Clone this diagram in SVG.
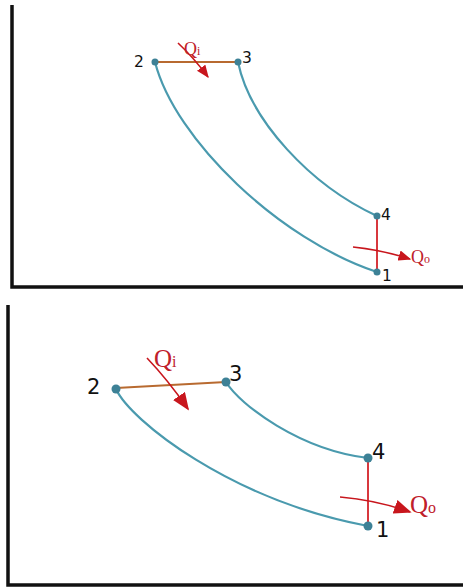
<svg xmlns="http://www.w3.org/2000/svg" width="463" height="587" viewBox="0 0 463 587">
<style>
.axis{stroke:#111;stroke-width:3.5;fill:none}
.curve{stroke:#4a9aae;stroke-width:2.2;fill:none}
.heat{stroke:#b86a30;stroke-width:2;fill:none}
.cool{stroke:#d8383e;stroke-width:2;fill:none}
.arrow{stroke:#c8161d;stroke-width:1.6;fill:none}
.dot{fill:#3d8196}
.num{font-family:"DejaVu Sans",sans-serif;fill:#111}
.q{font-family:"Liberation Serif",serif;fill:#c0202a}
</style>
<defs>
<marker id="ah" viewBox="0 0 10 10" refX="9" refY="5" markerWidth="8" markerHeight="6.5" orient="auto" markerUnits="strokeWidth" preserveAspectRatio="none">
<path d="M0,0 L10,5 L0,10 z" fill="#c8161d"/>
</marker>
<marker id="ahL" viewBox="0 0 10 10" refX="9" refY="5" markerWidth="11" markerHeight="9" orient="auto" markerUnits="strokeWidth" preserveAspectRatio="none">
<path d="M0,0 L10,5 L0,10 z" fill="#c8161d"/>
</marker>
</defs>

<g id="top-axes">
<path class="axis" d="M12,5 V287 H463"/>
</g>
<g id="top-connectors">
<path class="curve" d="M155,62 C175,140 280,240 377,272"/>
<path class="curve" d="M238,62 C250,120 310,185 377,216"/>
<line class="heat" x1="155" y1="62" x2="238" y2="62"/>
<line class="cool" x1="377" y1="216" x2="377" y2="272"/>
<path class="arrow" d="M178,43 Q194,58 208,77" marker-end="url(#ah)"/>
<path class="arrow" d="M353,247 Q382,250 410,259" marker-end="url(#ah)"/>
</g>
<g id="top-p2"><circle class="dot" cx="155" cy="62" r="3.5"/><text class="num" x="134" y="67" font-size="15.5">2</text></g>
<g id="top-p3"><circle class="dot" cx="238" cy="62" r="3.5"/><text class="num" x="242" y="63" font-size="15.5">3</text></g>
<g id="top-p4"><circle class="dot" cx="377" cy="216" r="3.5"/><text class="num" x="381" y="220" font-size="15.5">4</text></g>
<g id="top-p1"><circle class="dot" cx="377" cy="272" r="3.5"/><text class="num" x="382" y="281" font-size="15.5">1</text></g>
<g id="top-qi"><text class="q" x="184" y="55" font-size="18">Q<tspan font-size="12">i</tspan></text></g>
<g id="top-qo"><text class="q" x="411" y="263" font-size="18">Q<tspan font-size="12">o</tspan></text></g>

<g id="bottom-axes">
<path class="axis" d="M8,305 V585 H463" stroke-width="4"/>
</g>
<g id="bottom-connectors">
<path class="curve" d="M116,389 C130,420 230,500 368,526"/>
<path class="curve" d="M226,382 C240,405 300,450 368,458"/>
<line class="heat" x1="116" y1="388" x2="226" y2="382"/>
<line class="cool" x1="368" y1="458" x2="368" y2="526"/>
<path class="arrow" d="M147,358 Q168,380 188,409" marker-end="url(#ahL)"/>
<path class="arrow" d="M340,497 Q376,500 410,512" marker-end="url(#ahL)"/>
</g>
<g id="bottom-p2"><circle class="dot" cx="116" cy="389" r="4.5"/><text class="num" x="87" y="394" font-size="21">2</text></g>
<g id="bottom-p3"><circle class="dot" cx="226" cy="382" r="4.5"/><text class="num" x="229" y="381" font-size="21">3</text></g>
<g id="bottom-p4"><circle class="dot" cx="368" cy="458" r="4.5"/><text class="num" x="372" y="459" font-size="21">4</text></g>
<g id="bottom-p1"><circle class="dot" cx="368" cy="526" r="4.5"/><text class="num" x="376" y="537" font-size="21">1</text></g>
<g id="bottom-qi"><text class="q" x="154" y="367" font-size="25">Q<tspan font-size="16">i</tspan></text></g>
<g id="bottom-qo"><text class="q" x="410" y="513" font-size="25">Q<tspan font-size="16">o</tspan></text></g>
</svg>
